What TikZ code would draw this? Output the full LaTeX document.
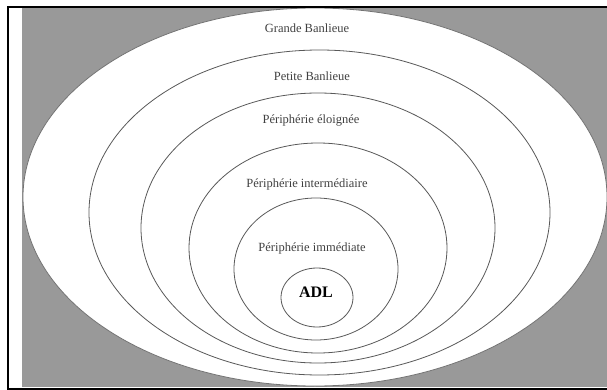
\documentclass[tikz,border=0pt]{standalone}
\usepackage{fontspec}
\setmainfont{Liberation Serif}
\usetikzlibrary{shapes.geometric}

\begin{document}
\begin{tikzpicture}[x=1pt,y=-1pt]
\tikzstyle{ring}=[draw=black!65, ellipse, inner sep=0pt, line width=0.8pt]
\tikzstyle{zone}=[anchor=base, inner sep=0pt, text=black!75,
  font=\fontsize{12.5}{14}\selectfont]
\useasboundingbox (0,0) rectangle (607,390);
\fill[white] (0,0) rectangle (607,390);
\fill[black!40] (22,8) rectangle (607,387);
\node[ring, draw=black!55, fill=white, minimum width=584pt, minimum height=378pt] (GB) at (315,197) {};
\node[ring, minimum width=461pt, minimum height=325pt] (PB) at (319.5,212.5) {};
\node[ring, minimum width=354pt, minimum height=270pt] (PE) at (318,228) {};
\node[ring, minimum width=258pt, minimum height=210pt] (PI) at (318,248) {};
\node[ring, minimum width=164pt, minimum height=142pt] (PM) at (316,269) {};
\node[ring, minimum width=72pt, minimum height=59pt] (ADL) at (317,297.5) {};
\node[zone] (gb) at (307,33) {Grande Banlieue};
\node[zone] (pb) at (312,81) {Petite Banlieue};
\node[zone] (pe) at (311,124) {Périphérie éloignée};
\node[zone] (pi) at (307,187) {Périphérie intermédiaire};
\node[zone] (pm) at (312,251) {Périphérie immédiate};
\node[zone, text=black, font=\fontsize{16}{18}\selectfont\bfseries] (adl) at (316,297) {ADL};
\draw[line width=2pt] (607,7) -- (8,7) -- (8,388.5) -- (607,388.5);
\end{tikzpicture}
\end{document}
